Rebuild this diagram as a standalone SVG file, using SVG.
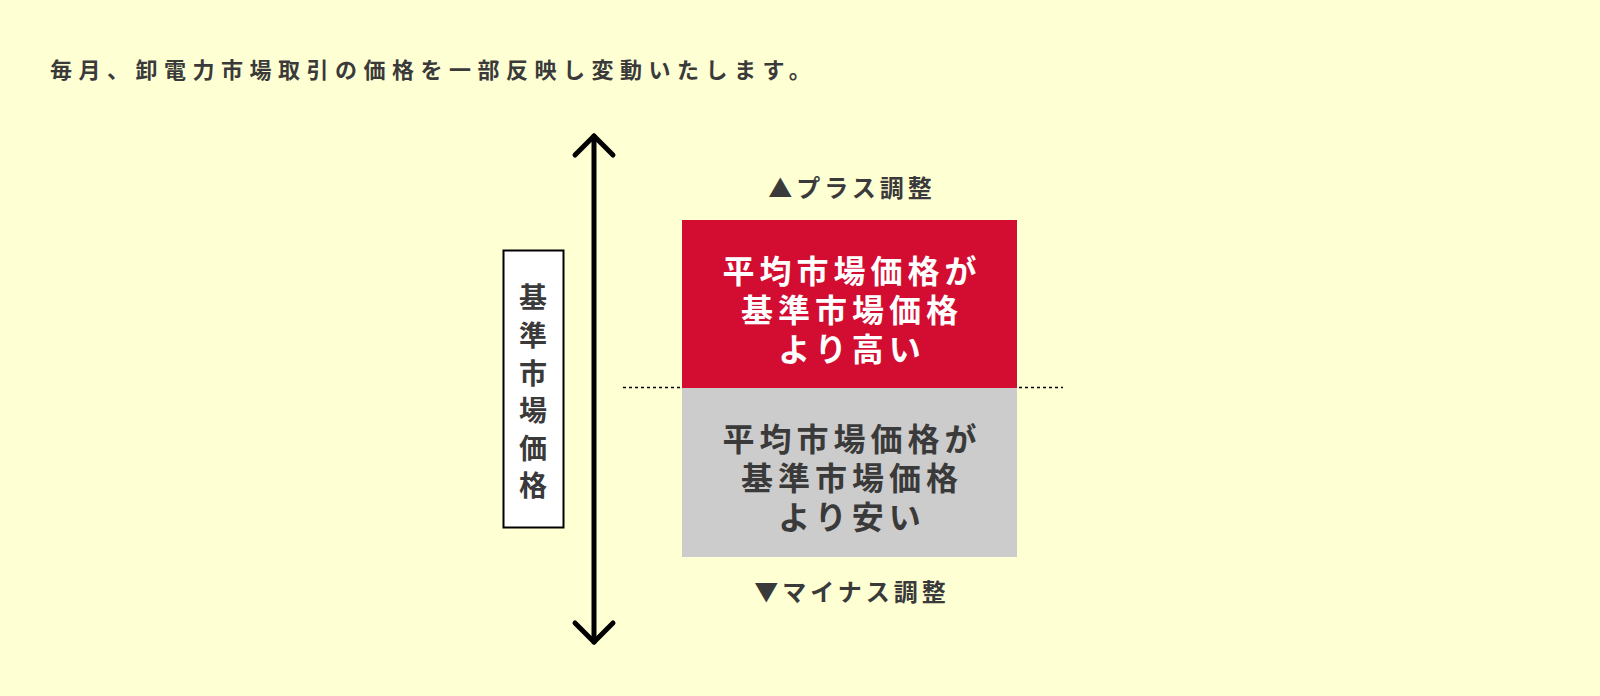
<svg xmlns="http://www.w3.org/2000/svg" width="1600" height="696" viewBox="0 0 1600 696">
<style>
text{font-family:"Noto Sans CJK JP","Noto Sans",sans-serif;font-weight:700}
.t{fill:#3a3a3a}
.b{font-size:32px;letter-spacing:5px;text-anchor:middle}
.v{font-size:28px;fill:#3a3a3a;text-anchor:middle}
</style>
<rect width="1600" height="696" fill="#ffffd4"/>
<text class="t" x="50" y="78" font-size="22" letter-spacing="6.5">毎月、卸電力市場取引の価格を一部反映し変動いたします。</text>
<g id="connectors" fill="none" stroke="#000" stroke-width="5" stroke-linecap="round" stroke-linejoin="round">
<line x1="594" y1="136" x2="594" y2="642"/>
<polyline points="575,155 594,136 613,155"/>
<polyline points="575,623 594,642 613,623"/>
<line x1="623" y1="387.5" x2="1063" y2="387.5" stroke-width="1.5" stroke-dasharray="3,3" stroke-linecap="butt"/>
</g>
<g id="label">
<rect x="503.5" y="250.5" width="60" height="277" fill="#fff" stroke="#000" stroke-width="2"/>
<text class="v" x="533" y="308">基</text>
<text class="v" x="533" y="346">準</text>
<text class="v" x="533" y="384">市</text>
<text class="v" x="533" y="421">場</text>
<text class="v" x="533" y="459">価</text>
<text class="v" x="533" y="496">格</text>
</g>
<g id="high">
<rect x="682" y="220" width="335" height="168" fill="#d20d31"/>
<text class="b" x="852" y="283" fill="#fff">平均市場価格が</text>
<text class="b" x="852" y="322" fill="#fff">基準市場価格</text>
<text class="b" x="852" y="361" fill="#fff">より高い</text>
</g>
<g id="low">
<rect x="682" y="388" width="335" height="169" fill="#cccccc"/>
<text class="b t" x="852" y="451">平均市場価格が</text>
<text class="b t" x="852" y="490">基準市場価格</text>
<text class="b t" x="852" y="529">より安い</text>
</g>
<text class="t" x="852" y="197" font-size="24" letter-spacing="4" text-anchor="middle">▲プラス調整</text>
<text class="t" x="852" y="601" font-size="24" letter-spacing="4" text-anchor="middle">▼マイナス調整</text>
</svg>
